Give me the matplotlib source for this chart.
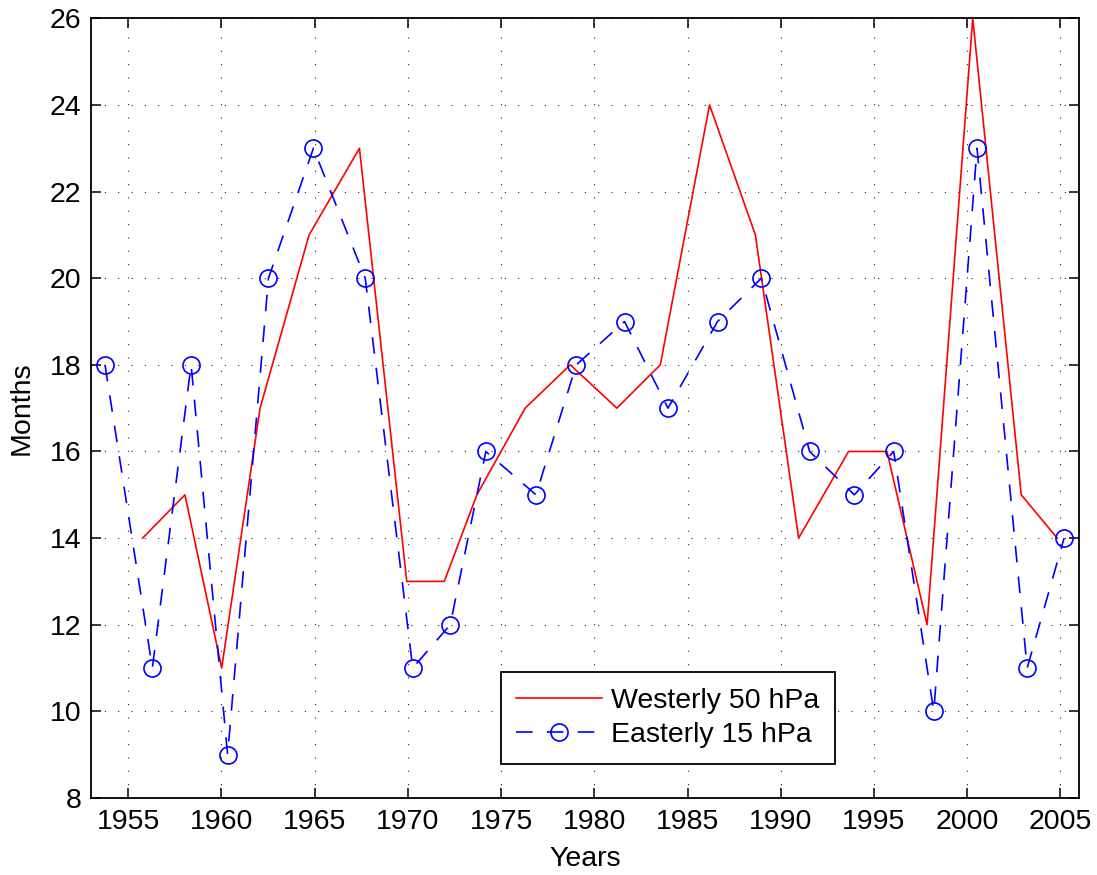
import matplotlib
matplotlib.use("Agg")
import matplotlib.pyplot as plt

# Westerly 50 hPa (red solid)
west_years = [1955.77, 1958.04, 1960.01, 1962.07, 1964.70, 1967.40, 1969.94, 1971.95,
              1973.70, 1976.29, 1978.71, 1981.21, 1983.54, 1986.18, 1988.64, 1990.96,
              1993.64, 1995.70, 1997.85, 2000.30, 2002.90, 2004.83]
west_months = [14, 15, 11, 17, 21, 23, 13, 13, 15, 17, 18, 17, 18, 24, 21, 14,
               16, 16, 12, 26, 15, 14]

# Easterly 15 hPa (blue dashed, circles)
east_years = [1953.75, 1956.29, 1958.37, 1960.33, 1962.52, 1964.93, 1967.71, 1970.26,
              1972.27, 1974.18, 1976.87, 1979.03, 1981.62, 1983.95, 1986.61, 1988.96,
              1991.55, 1993.95, 1996.06, 1998.21, 2000.53, 2003.22, 2005.20]
east_months = [18, 11, 18, 9, 20, 23, 20, 11, 12, 16, 15, 18, 19, 17, 19, 20,
               16, 15, 16, 10, 23, 11, 14]

xticks = [1955, 1960, 1965, 1970, 1975, 1980, 1985, 1990, 1995, 2000, 2005]
yticks = [8, 10, 12, 14, 16, 18, 20, 22, 24, 26]

plt.rcParams['font.family'] = ['Liberation Sans', 'DejaVu Sans']
fs = 20.5

fig = plt.figure(figsize=(10.97, 8.75), dpi=100)
ax = fig.add_axes([91/1097, 1 - 798/875, 988/1097, 779.7/875])

ax.plot(west_years, west_months, color='red', lw=1.2, label='Westerly 50 hPa')
ax.plot(east_years, east_months, color='blue', lw=1.2, dashes=(10, 8.5),
        marker='o', markersize=12.3, markerfacecolor='none',
        markeredgecolor='blue', markeredgewidth=1.2, label='Easterly 15 hPa')

ax.set_xlim(1953, 2006)
ax.set_ylim(8, 26)
ax.set_xticks(xticks)
ax.set_yticks(yticks)
ax.set_xticklabels([str(t) for t in xticks])
ax.set_yticklabels([str(t) for t in yticks])

ax.grid(True, color='#222222', linestyle=(0, (1, 11)), linewidth=0.8)
ax.set_axisbelow(True)
ax.tick_params(direction='in', length=7, width=1.1, top=True, right=True,
               labelsize=fs, colors='black')
ax.tick_params(axis='x', pad=8)
ax.tick_params(axis='y', pad=7)
for s in ax.spines.values():
    s.set_linewidth(1.3)
    s.set_color('black')

ax.set_xlabel('Years', fontsize=fs, labelpad=8)
ax.set_ylabel('Months', fontsize=fs, labelpad=11)

leg = ax.legend(loc='lower left', bbox_to_anchor=(0.4147, 0.0436), borderaxespad=0,
                fontsize=fs, fancybox=False, framealpha=1, edgecolor='black',
                handlelength=3.0, handletextpad=0.33, borderpad=0.55, labelspacing=0.3)
leg.get_frame().set_linewidth(1.3)

fig.savefig('out.png', dpi=100)
